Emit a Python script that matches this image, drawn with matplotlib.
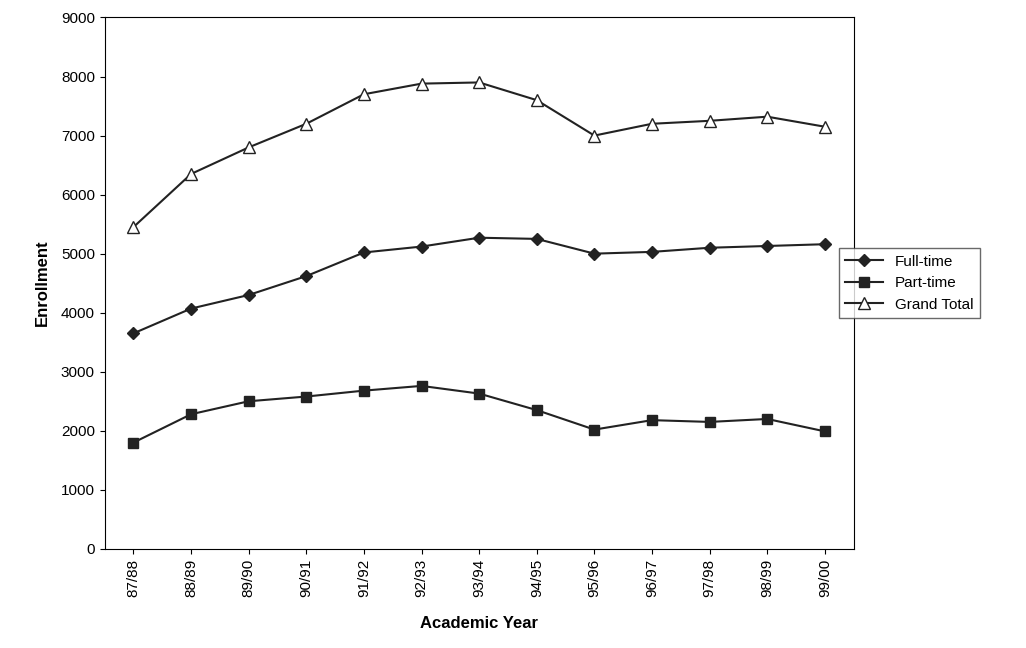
import numpy as np
import matplotlib.pyplot as plt

years = ['87/88', '88/89', '89/90', '90/91', '91/92', '92/93', '93/94',
         '94/95', '95/96', '96/97', '97/98', '98/99', '99/00']
full_time = [3650, 4070, 4300, 4620, 5020, 5120, 5270, 5250, 5000, 5030, 5100, 5130, 5160]
part_time = [1800, 2280, 2500, 2580, 2680, 2760, 2630, 2350, 2020, 2180, 2150, 2200, 1990]
grand_total = [5450, 6350, 6800, 7200, 7700, 7880, 7900, 7600, 7000, 7200, 7250, 7320, 7150]

plt.rcParams['font.family'] = ['Liberation Sans', 'DejaVu Sans']

fig = plt.figure(figsize=(10.26, 6.48), dpi=100)
ax = fig.add_axes([0.102, 0.153, 0.73, 0.82])

x = np.arange(len(years))
ax.plot(x, full_time, color='#222222', marker='D', markersize=6, lw=1.5, label='Full-time')
ax.plot(x, part_time, color='#222222', marker='s', markersize=7, lw=1.5, label='Part-time')
ax.plot(x, grand_total, color='#222222', marker='^', markersize=8, lw=1.5,
        markerfacecolor='white', label='Grand Total')

ax.set_xlim(-0.5, len(years) - 0.5)
ax.set_ylim(0, 9000)
ax.set_yticks(range(0, 9001, 1000))
ax.set_xticks(x)
ax.set_xticklabels(years, rotation=90, fontsize=11)
ax.tick_params(axis='y', labelsize=11)
ax.set_xlabel('Academic Year', fontsize=12, fontweight='bold', labelpad=14)
ax.set_ylabel('Enrollment', fontsize=12, fontweight='bold', labelpad=8)

ax.legend(loc='center left', bbox_to_anchor=(0.98, 0.5), fontsize=11,
          fancybox=False, edgecolor='#444444', handlelength=2.5,
          borderaxespad=0)

plt.savefig('out.png', dpi=100)
